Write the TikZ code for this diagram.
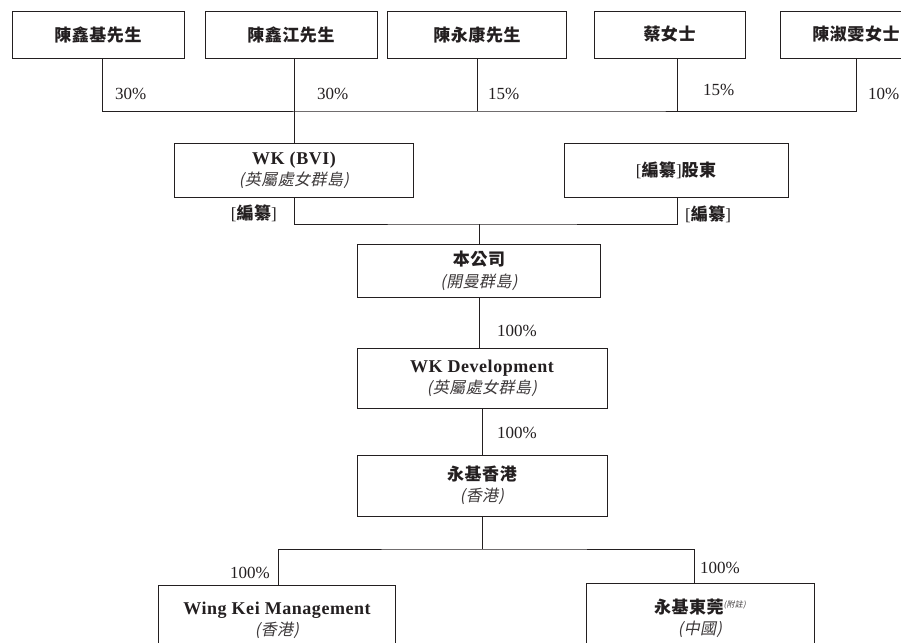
\documentclass[tikz,border=0pt]{standalone}
\usepackage{fontspec}
\setmainfont{Liberation Serif}
\newfontfamily\lat[LetterSpace=3]{Liberation Serif}
\newfontfamily\cjk[LetterSpace=3]{Noto Sans CJK TC}
\newfontfamily\cjkit[FakeSlant=0.2,LetterSpace=3]{Noto Sans CJK TC}
\definecolor{ink}{HTML}{231F20}
\definecolor{inkit}{HTML}{3C3839}
\newcommand\zhb[1]{{\fontsize{17}{21}\selectfont\cjk\bfseries #1}}
\newcommand\zhi[1]{{\cjkit\color{inkit}#1}}
\newcommand\enb[1]{{\fontsize{18}{20}\selectfont\lat\bfseries #1}}
\begin{document}
\begin{tikzpicture}[x=1pt,y=-1pt,
  box/.style={draw=ink, line width=0.8pt, rectangle, inner sep=0pt, align=center, text=ink, font=\fontsize{16}{21}\selectfont},
  conn/.style={draw=ink, line width=0.8pt},
  pct/.style={inner sep=0pt, text=ink, font=\fontsize{17}{18}\selectfont}]
\useasboundingbox (0,0) rectangle (901,642);
\clip (0,0) rectangle (901,642);

% top row: shareholders
\node[box, minimum width=172pt, minimum height=47pt] (p1) at (98,34.5) {\zhb{陳鑫基先生}};
\node[box, minimum width=172pt, minimum height=47pt] (p2) at (291,34.5) {\zhb{陳鑫江先生}};
\node[box, minimum width=179pt, minimum height=47pt] (p3) at (477,34.5) {\zhb{陳永康先生}};
\node[box, minimum width=151pt, minimum height=47pt] (p4) at (669.5,34.5) {\zhb{蔡女士}};
\node[box, minimum width=152pt, minimum height=47pt] (p5) at (856,34.5) {\zhb{陳淑雯女士}};

\coordinate (bus) at (479,111);

% middle boxes
\node[box, minimum width=239pt, minimum height=54pt] (wkbvi) at (294,170) {\enb{WK (BVI)}\\\zhi{(英屬處女群島)}};
\node[box, minimum width=224pt, minimum height=54pt] (sh) at (676,170) {{\fontsize{17}{21}\selectfont[}\zhb{編纂}{\fontsize{17}{21}\selectfont]}\zhb{股東}};

\coordinate (j) at (479,224);
\node[box, minimum width=243pt, minimum height=53pt] (co) at (479,270.5) {\zhb{本公司}\\[1pt]\zhi{(開曼群島)}};
\node[box, minimum width=250pt, minimum height=60pt] (wkd) at (482,378) {\enb{WK Development}\\\zhi{(英屬處女群島)}};
\node[box, minimum width=250pt, minimum height=61pt] (hk) at (482,485.5) {\zhb{永基香港}\\\zhi{(香港)}};
\coordinate (k) at (482,549);
\node[box, minimum width=237pt, minimum height=70pt] (wkm) at (277,620) {\enb{Wing Kei Management}\\\zhi{(香港)}};
\node[box, minimum width=228pt, minimum height=71pt] (dg) at (700,618.5) {\zhb{永基東莞}\raisebox{6pt}{\fontsize{8}{8}\selectfont\zhi{(附註)}}\\\zhi{(中國)}};

% connectors
\draw[conn] ([xshift=4pt]p1.south) |- (bus) -| (p5.south);
\draw[conn] (wkbvi.north) -- (wkbvi.north |- p2.south);
\draw[conn] (p3.south) -- (p3.south |- bus);
\draw[conn] ([xshift=7.5pt]p4.south) -- ([xshift=7.5pt]p4.south |- bus);
\draw[conn] (wkbvi.south) |- (j) -| ([xshift=1pt]sh.south);
\draw[conn] (j) -- (co.north);
\draw[conn] (co.south) -- (co.south |- wkd.north);
\draw[conn] (wkd.south) -- (hk.north);
\draw[conn] (hk.south) -- (k);
\draw[conn] ([xshift=1pt]wkm.north) |- (k) -| ([xshift=-6pt]dg.north);

% labels
\node[pct, anchor=west] (l1) at (115,93.5) {30\%};
\node[pct, anchor=west] (l2) at (317,93.5) {30\%};
\node[pct, anchor=west] (l3) at (488,93.5) {15\%};
\node[pct, anchor=west] (l4) at (703,89.5) {15\%};
\node[pct, anchor=west] (l5) at (868,93.5) {10\%};
\node[pct, anchor=east] (r1) at (277,213) {[\zhb{編纂}]};
\node[pct, anchor=west] (r2) at (685,214) {[\zhb{編纂}]};
\node[pct, anchor=west] (l6) at (497,331) {100\%};
\node[pct, anchor=west] (l7) at (497,433) {100\%};
\node[pct, anchor=east] (l8) at (270,573) {100\%};
\node[pct, anchor=west] (l9) at (700,568) {100\%};
\end{tikzpicture}
\end{document}
